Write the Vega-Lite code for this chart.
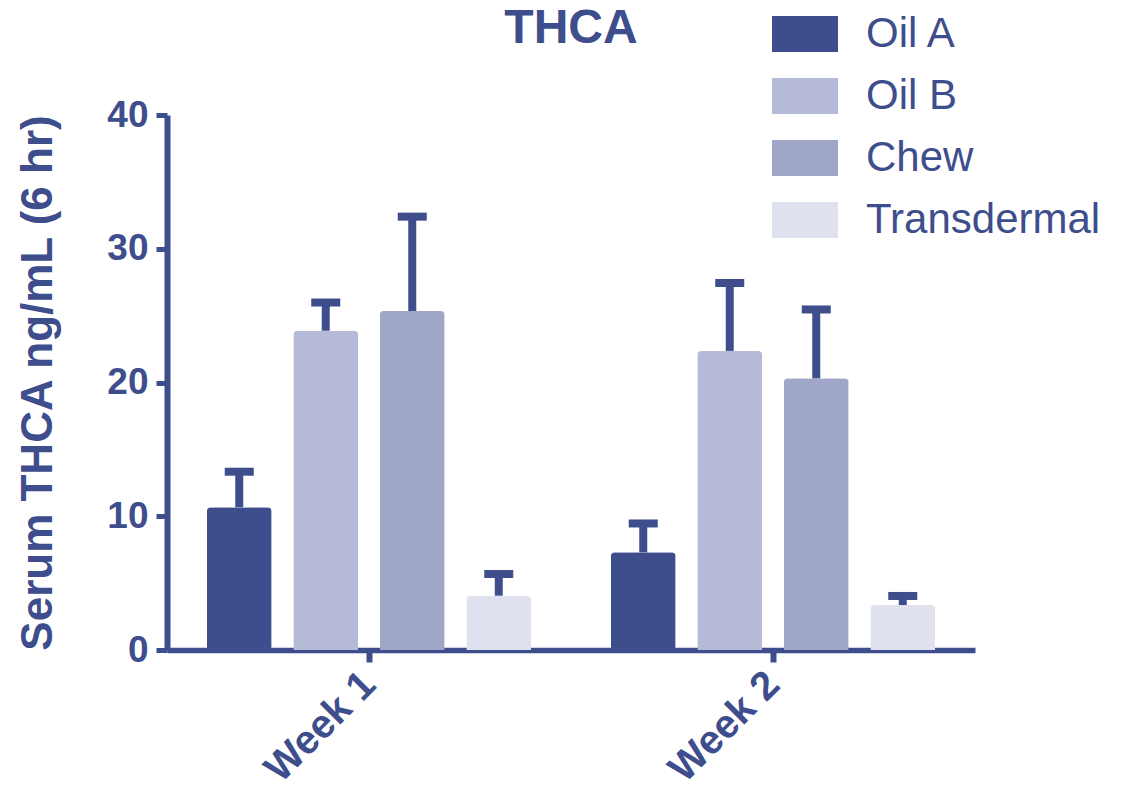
{
  "$schema": "https://vega.github.io/schema/vega-lite/v6.json",
  "width": 808,
  "height": 535,
  "autosize": "none",
  "padding": {"left": 167, "top": 115, "right": 164, "bottom": 154},
  "background": "white",
  "title": {
    "text": "THCA",
    "fontSize": 48,
    "fontWeight": "bold",
    "font": "Liberation Sans",
    "color": "#3e4d8c",
    "anchor": "middle",
    "frame": "group",
    "offset": 0,
    "dy": 52
  },
  "data": {
    "values": [
      {"week": "Week 1", "product": "Oil A", "mean": 10.67, "upper": 13.33},
      {"week": "Week 1", "product": "Oil B", "mean": 23.87, "upper": 25.98},
      {"week": "Week 1", "product": "Chew", "mean": 25.35, "upper": 32.4},
      {"week": "Week 1", "product": "Transdermal", "mean": 4.06, "upper": 5.68},
      {"week": "Week 2", "product": "Oil A", "mean": 7.3, "upper": 9.46},
      {"week": "Week 2", "product": "Oil B", "mean": 22.36, "upper": 27.44},
      {"week": "Week 2", "product": "Chew", "mean": 20.31, "upper": 25.46},
      {"week": "Week 2", "product": "Transdermal", "mean": 3.36, "upper": 4.04}
    ]
  },
  "encoding": {
    "x": {
      "field": "week",
      "type": "nominal",
      "scale": {"paddingInner": 0, "paddingOuter": 0},
      "axis": {
        "title": null,
        "labelAngle": -45,
        "labelFontSize": 40,
        "labelFontWeight": "bold",
        "labelFont": "Liberation Sans",
        "labelColor": "#3e4d8c",
        "domainColor": "#3e4d8c",
        "domainWidth": 5.5,
        "tickColor": "#3e4d8c",
        "tickWidth": 6,
        "tickSize": 12,
        "labelPadding": 2,
        "labelOffset": -14
      }
    },
    "xOffset": {
      "field": "product",
      "type": "nominal",
      "sort": ["Oil A", "Oil B", "Chew", "Transdermal"],
      "scale": {"paddingInner": 0.25, "paddingOuter": 0.46}
    }
  },
  "layer": [
    {
      "mark": {"type": "bar", "cornerRadiusTopLeft": 4, "cornerRadiusTopRight": 4},
      "encoding": {
        "y": {
          "field": "mean",
          "type": "quantitative",
          "scale": {"domain": [0, 40], "nice": false},
          "axis": {
            "values": [0, 10, 20, 30, 40],
            "grid": false,
            "title": "Serum THCA ng/mL (6 hr)",
            "titleFontSize": 44,
            "titleFontWeight": "bold",
            "titleFont": "Liberation Sans",
            "titleColor": "#3e4d8c",
            "titlePadding": 46,
            "labelFontSize": 37,
            "labelFontWeight": "bold",
            "labelFont": "Liberation Sans",
            "labelColor": "#3e4d8c",
            "labelPadding": 8,
            "domainColor": "#3e4d8c",
            "domainWidth": 6,
            "tickColor": "#3e4d8c",
            "tickWidth": 5,
            "tickSize": 11
          }
        },
        "color": {
          "field": "product",
          "type": "nominal",
          "sort": ["Oil A", "Oil B", "Chew", "Transdermal"],
          "scale": {
            "domain": ["Oil A", "Oil B", "Chew", "Transdermal"],
            "range": ["#3e4d8c", "#b5bad6", "#a0a6c8", "#dfe1ee"]
          },
          "legend": {
            "title": null,
            "orient": "none",
            "legendX": 605,
            "legendY": -114,
            "symbolType": "M-1,-0.545H1V0.545H-1Z",
            "symbolSize": 4356,
            "symbolStrokeWidth": 0,
            "symbolOpacity": 1,
            "labelFontSize": 42,
            "labelFont": "Liberation Sans",
            "labelColor": "#3e4d8c",
            "labelOffset": 28,
            "rowPadding": 8,
            "labelLimit": 400
          }
        }
      }
    },
    {
      "mark": {"type": "rule", "strokeWidth": 8, "color": "#3e4d8c"},
      "encoding": {
        "y": {"field": "mean", "type": "quantitative"},
        "y2": {"field": "upper"}
      }
    },
    {
      "mark": {"type": "tick", "size": 29, "thickness": 8, "color": "#3e4d8c", "opacity": 1},
      "encoding": {
        "y": {"field": "upper", "type": "quantitative"}
      }
    }
  ],
  "config": {
    "view": {"stroke": null},
    "font": "Liberation Sans"
  }
}
